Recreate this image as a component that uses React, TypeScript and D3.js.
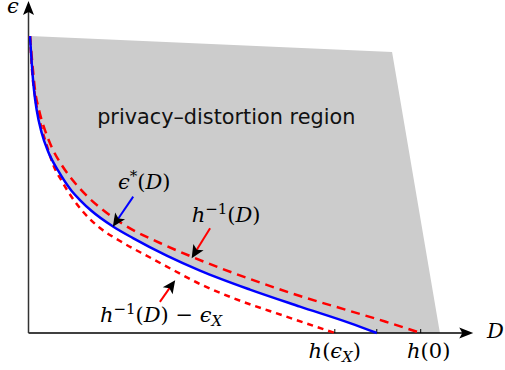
import React from "react";
import * as d3 from "d3";

// values: D on the x axis (h(0) = 1), privacy leakage on the y axis
const blueD = [0.0038, 0.0082, 0.0140, 0.0209, 0.0337, 0.0505, 0.0760, 0.1101, 0.1313, 0.1611, 0.2155, 0.2664, 0.3524, 0.4372, 0.5647, 0.6922, 0.8197, 0.8878];
const blueEps = [1.0, 0.9091, 0.8182, 0.7508, 0.6734, 0.6094, 0.5455, 0.4781, 0.4478, 0.4108, 0.3586, 0.3195, 0.2606, 0.2101, 0.1461, 0.0889, 0.0333, 0];

const hinvD = [0.0038, 0.0097, 0.0166, 0.0268, 0.0446, 0.0625, 0.0854, 0.1186, 0.1543, 0.1900, 0.2486, 0.3353, 0.4118, 0.4883, 0.5647, 0.6922, 0.8197, 0.9090, 1.0];
const hinvEps = [1.0, 0.9091, 0.8182, 0.7508, 0.6734, 0.6162, 0.5640, 0.5051, 0.4545, 0.4141, 0.3603, 0.3030, 0.2593, 0.2189, 0.1818, 0.1246, 0.0741, 0.0387, 0];

const lowD = [0.0038, 0.0089, 0.0166, 0.0293, 0.0464, 0.0632, 0.0847, 0.1101, 0.1397, 0.1823, 0.2333, 0.3098, 0.3735, 0.4372, 0.5214, 0.6489, 0.781];
const lowEps = [1.0, 0.8855, 0.7980, 0.7104, 0.6330, 0.5657, 0.5118, 0.4579, 0.4074, 0.3535, 0.3098, 0.2542, 0.2088, 0.1650, 0.1178, 0.0589, 0];

// corners of the shaded region (top-right, bottom-right)
const regionD = [0.927, 1.049];
const regionEps = [0.946, 0];

const tickD = [0.781, 0.888, 1.0];

// annotation arrows: [start, tip]
const arrowBlue = [[0.267, 0.459], [0.215, 0.358]];
const arrowHinv = [[0.463, 0.353], [0.416, 0.252]];
const arrowLow = [[0.335, 0.105], [0.374, 0.178]];

const W = 505, H = 370;
const x = d3.scaleLinear().domain([0, 1]).range([28.5, 420.7]);
const y = d3.scaleLinear().domain([0, 1]).range([333, 36]);

const serif = "'DejaVu Serif', 'Liberation Serif', serif";

function zip(a, b) {
	return a.map((v, i) => [v, b[i]]);
}

const line = d3.line()
	.x(d => x(d[0]))
	.y(d => y(d[1]))
	.curve(d3.curveMonotoneX);

function Arrow({ pts, color }) {
	const [x0, y0] = [x(pts[0][0]), y(pts[0][1])];
	const [x1, y1] = [x(pts[1][0]), y(pts[1][1])];
	const ang = Math.atan2(y1 - y0, x1 - x0) * 180 / Math.PI;
	const len = Math.hypot(x1 - x0, y1 - y0);
	return (
		<g transform={`translate(${x0},${y0}) rotate(${ang})`}>
			<line x1={0} y1={0} x2={len - 8} y2={0} stroke={color} strokeWidth={2} />
			<path d={`M${len},0 L${len - 13},-6 L${len - 10},0 L${len - 13},6 Z`} fill="black" />
		</g>
	);
}

export default function App() {
	const blue = zip(blueD, blueEps);
	const fill = line(blue) + ` L${x(regionD[1])},${y(regionEps[1])} L${x(regionD[0])},${y(regionEps[0])} Z`;
	const axisEndD = 1.134, axisEndEps = 1.118;

	return (
		<svg width={W} height={H} style={{ position: "absolute", left: 0, top: 0 }}>
			<path d={fill} fill="#cccccc" />

			{/* axes */}
			<line x1={x(0)} y1={y(0)} x2={x(axisEndD) - 10} y2={y(0)} stroke="black" strokeWidth={1.5} />
			<line x1={x(0)} y1={y(0)} x2={x(0)} y2={y(axisEndEps) + 10} stroke="#333" strokeWidth={1.5} />
			<path d={`M${x(axisEndD)},${y(0)} l-14,-5.5 l3,5.5 l-3,5.5 Z`} fill="black" />
			<path d={`M${x(0)},${y(axisEndEps)} l-5.5,14 l5.5,-3 l5.5,3 Z`} fill="black" />
			{tickD.map((d, i) => (
				<line key={i} x1={x(d)} x2={x(d)} y1={y(0)} y2={y(0) - 4} stroke="black" strokeWidth={1} />
			))}

			{/* curves */}
			<path d={line(zip(lowD, lowEps))} fill="none" stroke="#ff0000" strokeWidth={2.5} strokeDasharray="6,5" />
			<path d={line(zip(hinvD, hinvEps))} fill="none" stroke="#ff0000" strokeWidth={2.5} strokeDasharray="9,6" />
			<path d={line(blue)} fill="none" stroke="#0000ff" strokeWidth={2.5} />

			<Arrow pts={arrowBlue} color="#0000ff" />
			<Arrow pts={arrowHinv} color="#ff0000" />
			<Arrow pts={arrowLow} color="#ff0000" />

			<text x={x(0.175)} y={y(0.703)} fontFamily="'DejaVu Sans', sans-serif" fontSize={20.8} fill="#111">
				privacy–distortion region
			</text>

			<g fontFamily={serif} fontSize={21}>
				<text x={x(0.228)} y={y(0.485)}>
					<tspan fontStyle="italic">ϵ</tspan>
					<tspan dy={-8} fontSize={15}>*</tspan>
					<tspan dy={8}>(</tspan><tspan fontStyle="italic">D</tspan>)
				</text>
				<text x={x(0.416)} y={y(0.374)}>
					<tspan fontStyle="italic">h</tspan>
					<tspan dy={-8} fontSize={15}>−1</tspan>
					<tspan dy={8}>(</tspan><tspan fontStyle="italic">D</tspan>)
				</text>
				<text x={x(0.182)} y={y(0.037)}>
					<tspan fontStyle="italic">h</tspan>
					<tspan dy={-8} fontSize={15}>−1</tspan>
					<tspan dy={8}>(</tspan><tspan fontStyle="italic">D</tspan>) − <tspan fontStyle="italic">ϵ</tspan>
					<tspan dy={4} fontSize={15} fontStyle="italic">X</tspan>
				</text>
				<text x={x(tickD[0])} y={358} textAnchor="middle">
					<tspan fontStyle="italic">h</tspan>(<tspan fontStyle="italic">ϵ</tspan>
					<tspan dy={4} fontSize={15} fontStyle="italic">X</tspan>
					<tspan dy={-4}>)</tspan>
				</text>
				<text x={x(tickD[2]) + 8} y={358} textAnchor="middle">
					<tspan fontStyle="italic">h</tspan>(0)
				</text>
				<text x={7} y={13} fontStyle="italic">ϵ</text>
				<text x={487} y={338} fontStyle="italic">D</text>
			</g>
		</svg>
	);
}
